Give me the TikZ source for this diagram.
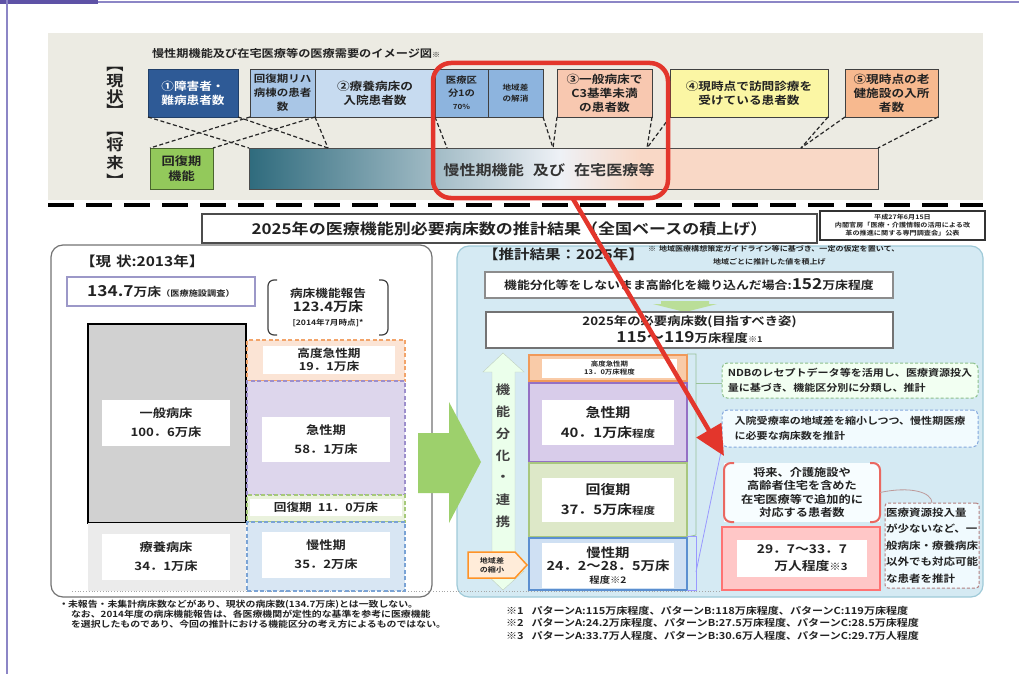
\documentclass[tikz,border=0pt]{standalone}
\usepackage{fontspec}
\setmainfont{Noto Sans CJK JP}[BoldFont={Noto Sans CJK JP Bold},FakeStretch=1.15]
\usetikzlibrary{positioning,arrows.meta,calc}
\newcommand\fz[2]{\fontsize{#1}{#2}\selectfont\bfseries}

\definecolor{inkdark}{HTML}{222222}
\definecolor{bandbg}{HTML}{ECEBE3}
\definecolor{frameline}{HTML}{8C86C6}
\definecolor{frametab}{HTML}{5E52A6}
\definecolor{navy}{HTML}{2E5A96}
\definecolor{rehab}{HTML}{A9C6E6}
\definecolor{ryoyo}{HTML}{C7DBF0}
\definecolor{kubun}{HTML}{8DB4DE}
\definecolor{salmon}{HTML}{F8C8B0}
\definecolor{lemon}{HTML}{FBF6A4}
\definecolor{apricot}{HTML}{F7B98F}
\definecolor{leaf}{HTML}{93C95B}
\definecolor{deepteal}{HTML}{2F6B7D}
\definecolor{mist}{HTML}{EEF1F6}
\definecolor{peach}{HTML}{F9D8C6}
\definecolor{alarm}{HTML}{E3362C}
\definecolor{panelblue}{HTML}{D5EAF3}
\definecolor{paneledge}{HTML}{9FCAD8}
\definecolor{lav}{HTML}{9C98C8}
\definecolor{bigleaf}{HTML}{9DD06C}
% cells of the bars
\definecolor{hkfill}{HTML}{FBE4D5}
\definecolor{hkline}{HTML}{F2A46A}
\definecolor{kyfill}{HTML}{DDD6EC}
\definecolor{kyline}{HTML}{9D8FCC}
\definecolor{kffill}{HTML}{EAF2DD}
\definecolor{kfline}{HTML}{A6C97A}
\definecolor{mnfill}{HTML}{D8E6F3}
\definecolor{mnline}{HTML}{7AA3D5}
\definecolor{rhkfill}{HTML}{F9CBA8}
\definecolor{rhkline}{HTML}{F0995A}
\definecolor{rkyfill}{HTML}{D8CCEA}
\definecolor{rkyline}{HTML}{9470C4}
\definecolor{rkffill}{HTML}{DDE8C8}
\definecolor{rkfline}{HTML}{A8C77E}
\definecolor{rmnfill}{HTML}{CFE0F3}
\definecolor{rmnline}{HTML}{5B8FD0}

\begin{document}
\begin{tikzpicture}[x=1pt,y=-1pt,
  every node/.style={inner sep=0pt, outer sep=0pt, text=inkdark},
  nw/.style={anchor=north west},
  topbox/.style={nw, draw=black!75, line width=0.8pt, align=center, minimum height=48pt, font=\fz{11}{14}},
  dline/.style={black!85, line width=1.2pt, dash pattern=on 4pt off 2.5pt},
  lcell/.style={nw, line width=1.1pt, dash pattern=on 4pt off 2.5pt, minimum width=158pt},
  rcell/.style={nw, minimum width=158pt},
  whitebox/.style={nw, fill=white, align=center},
  memo/.style={nw, rounded corners=5pt, line width=1pt, dash pattern=on 3pt off 2pt, align=left, font=\fz{9.6}{15}},
  redarrow/.style={alarm, line width=4.5pt, -{Triangle[length=30pt,width=28pt]}}
]
\useasboundingbox (0,0) rectangle (1019,674);

% frame of the page
\fill[frametab] (0,0) rectangle (98,4);
\draw[frameline, line width=1.5pt] (98,2) -- (1019,2);
\draw[frameline, line width=1.5pt] (7,0) -- (7,674);

% ---- image of the demand (top band)
\fill[bandbg] (48,33) rectangle (983,200);
\node[anchor=west, font=\fz{10.6}{11}] (bandtitle) at (152,53) {慢性期機能及び在宅医療等の医療需要のイメージ図{\fz{7}{7}※}};

\node[font=\fz{15}{15}] (nowa) at (115,70) {︻};
\node[font=\fz{15}{15}] (nowb) at (115,81) {現};
\node[font=\fz{15}{15}] (nowc) at (115,97) {状};
\node[font=\fz{15}{15}] (nowd) at (115,110) {︼};
\node[font=\fz{15}{15}] (futa) at (115,135) {︻};
\node[font=\fz{15}{15}] (futb) at (115,145) {将};
\node[font=\fz{15}{15}] (futc) at (115,163) {来};
\node[font=\fz{15}{15}] (futd) at (115,180) {︼};

\node[topbox, fill=navy, text=white, minimum width=90pt, draw=navy!70!black] (a1) at (148,69) {①障害者・\\難病患者数};
\node[topbox, fill=rehab, minimum width=65pt, font=\fz{10}{14}] (rh) at (250,69) {回復期リハ\\病棟の患者\\数};
\node[topbox, fill=ryoyo, minimum width=120pt] (ry) at (315,69) {②療養病床の\\入院患者数};
\node[topbox, fill=kubun, minimum width=53pt, font=\fz{9}{13}] (k1) at (435,69) {医療区\\分1の\\{\fz{7}{8}70\%}};
\node[topbox, fill=kubun, minimum width=55pt, font=\fz{7.5}{11}] (k2) at (488,69) {地域差\\の解消};
\node[topbox, fill=salmon, minimum width=95pt] (a3) at (557,69) {③一般病床で\\C3基準未満\\の患者数};
\node[topbox, fill=lemon, minimum width=158pt] (a4) at (670,69) {④現時点で訪問診療を\\受けている患者数};
\node[topbox, fill=apricot, minimum width=93pt] (a5) at (845,69) {⑤現時点の老\\健施設の入所\\者数};

\node[nw, fill=leaf, draw=leaf!50!black, line width=0.8pt, minimum width=63pt, minimum height=41pt, align=center, font=\fz{11.5}{15}] (gr) at (150,148) {回復期\\機能};
\shade[left color=deepteal, right color=mist] (249,148) rectangle (560,189);
\shade[left color=mist, right color=peach] (560,148) rectangle (640,189);
\fill[peach] (640,148) rectangle (878,189);
\node[nw, draw=black!70, line width=0.8pt, minimum width=629pt, minimum height=41pt] (bar) at (249,148) {};
\node[font=\fz{14}{14}, text=black!80] (bartext) at (549,170) {慢性期機能\hspace{9pt}及び\hspace{9pt}在宅医療等};

\coordinate (b1) at (328,148);
\coordinate (b2) at (447,148);
\coordinate (b3) at (553,148);
\coordinate (b4) at (647,148);
\coordinate (b5) at (801,148);

\draw[dline] (a1.south west) -- (bar.north west);
\draw[dline] (a1.south east) -- (b1);
\draw[dline] (rh.south west) -- (gr.north west);
\draw[dline] (rh.south east) -- (gr.north east);
\draw[dline] (ry.south west) -- (b1);
\draw[dline] (k1.south west) -- (b2);
\draw[dline] (k2.south east) -- (b3);
\draw[dline] (a3.south west) -- (b3);
\draw[dline] (a3.south east) -- (b4);
\draw[dline] (a4.south west) -- (b4);
\draw[dline] (a4.south east) -- (b5);
\draw[dline] (a5.south west) -- (b5);
\draw[dline] (a5.south east) -- (bar.north east);

\node[nw, draw=alarm, line width=4.5pt, rounded corners=18pt, minimum width=235pt, minimum height=135pt] (hilite) at (433,63) {};

\draw[black, line width=3.5pt, dash pattern=on 26pt off 12pt] (48,205) -- (983,205);

% ---- headline boxes
\node[nw, fill=white, draw=black!70, line width=1.5pt, minimum width=615pt, minimum height=29pt, font=\fz{14.8}{15}] (result) at (202,214) {2025年の医療機能別必要病床数の推計結果（全国ベースの積上げ）};
\node[nw, fill=white, draw=black!80, line width=1.4pt, minimum width=165pt, minimum height=29pt, align=center, font=\fz{6.2}{8}] (src) at (820,211) {平成27年6月15日\\内閣官房「医療・介護情報の活用による改\\革の推進に関する専門調査会」公表};

% ---- panels
\node[nw, draw=black!55, fill=white, rounded corners=12pt, line width=1.2pt, minimum width=381pt, minimum height=352pt] (nowpanel) at (51,245) {};
\node[nw, draw=paneledge, fill=panelblue, rounded corners=12pt, line width=1.2pt, minimum width=526pt, minimum height=351pt] (futpanel) at (457,246) {};
\draw[black!35, line width=0.8pt, dotted] (72,591) -- (720,591);

% ---- now: 2013
\node[anchor=west, font=\fz{13.5}{14}] (nowhead) at (80,261) {【現\hspace{5pt}状:2013年】};
\node[nw, draw=lav, line width=1.2pt, fill=white, minimum width=188pt, minimum height=29pt] (census) at (67,277) {{\fz{15}{15}134.7}{\fz{12}{12}万床}{\fz{8}{8}（医療施設調査）}};
\node[nw, minimum width=120pt, minimum height=55pt, align=center, font=\fz{11}{14}] (report) at (268,280) {病床機能報告\\{\fz{13}{14}123.4万床}\\{\fz{7.5}{9}[2014年7月時点]*}};
\draw[black!75, line width=1.2pt, rounded corners=6pt] ([xshift=9pt]report.north west) -- (report.north west) -- (report.south west) -- ([xshift=9pt]report.south west);
\draw[black!75, line width=1.2pt, rounded corners=6pt] ([xshift=-9pt]report.north east) -- (report.north east) -- (report.south east) -- ([xshift=-9pt]report.south east);

\node[nw, fill=black!18, draw=black, line width=2pt, minimum width=158pt, minimum height=199pt] (ippan) at (88,324) {};
\node[nw, fill=black!8, minimum width=158pt, minimum height=68pt] (ryo) at (88,523) {};
\node[whitebox, minimum width=128pt, minimum height=46pt, font=\fz{11.5}{19}] (ippanlbl) at (102,400) {一般病床\\100．6万床};
\node[whitebox, minimum width=128pt, minimum height=46pt, font=\fz{11.5}{19}] (ryolbl) at (102,534) {療養病床\\34．1万床};

\node[lcell, fill=hkfill, draw=hkline, minimum height=41pt] (hk) at (247,340) {};
\node[lcell, fill=kyfill, draw=kyline, minimum height=114pt] (ky) at (247,381) {};
\node[lcell, fill=kffill, draw=kfline, minimum height=27pt] (kf) at (247,495) {};
\node[lcell, fill=mnfill, draw=mnline, minimum height=69pt] (mn) at (247,522) {};
\node[whitebox, minimum width=132pt, minimum height=28pt, font=\fz{11}{13}] (hkl) at (263,346) {高度急性期\\19．1万床};
\node[whitebox, minimum width=128pt, minimum height=45pt, font=\fz{11.5}{19}] (kyl) at (262,417) {急性期\\58．1万床};
\node[whitebox, minimum width=152pt, minimum height=17pt, font=\fz{11}{12}] (kfl) at (250,499) {回復期\hspace{6pt}11．0万床};
\node[whitebox, minimum width=128pt, minimum height=46pt, font=\fz{11.5}{19}] (mnl) at (262,532) {慢性期\\35．2万床};

% big arrow between the panels
\fill[bigleaf] (418,433) -- (449,433) -- (449,402) -- (481,462) -- (449,523) -- (449,493) -- (418,493) -- cycle;

% ---- estimate: 2025
\node[anchor=west, font=\fz{13.5}{14}] (futhead) at (483,254) {【推計結果：2025年】};
\node[anchor=west, font=\fz{7}{7}] (futmark) at (648,248.5) {※};
\node[anchor=west, font=\fz{7}{7}] (futnote) at (659,248.5) {地域医療構想策定ガイドライン等に基づき、一定の仮定を置いて、};
\node[anchor=west, font=\fz{7}{7}] (futnoteb) at (713,262) {地域ごとに推計した値を積上げ};

\node[nw, fill=white, draw=black!45, line width=1.4pt, minimum width=408pt, minimum height=26pt, font=\fz{11.2}{12}] (noaction) at (485,272) {機能分化等をしないまま高齢化を織り込んだ場合:{\fz{15}{15}152}万床程度};
\fill[bigleaf!70] (661,301) -- (709,301) -- (709,304) -- (717,304) -- (685,312) -- (653,304) -- (661,304) -- cycle;
\node[nw, fill=white, draw=black!55, line width=2pt, minimum width=407pt, minimum height=36pt, align=center, font=\fz{11.6}{17}] (target) at (486,312) {2025年の必要病床数(目指すべき姿)\\{\fz{15}{17}115～119}万床程度{\fz{8}{8}※1}};

\fill[green!8!white, draw=green!25!black!25] (503,353) -- (524,372) -- (515,372) -- (515,571) -- (524,571) -- (503,590) -- (483,571) -- (492,571) -- (492,372) -- (483,372) -- cycle;
\foreach \ch [count=\i] in {機,能,分,化,・,連,携}
  \node[font=\fz{12.5}{13}, text=black!75] (flow\i) at (503,368+22*\i) {\ch};

\node[rcell, fill=rhkfill, draw=rhkline, line width=1.5pt, minimum height=26pt] (rhk) at (529,355) {};
\node[rcell, fill=rkyfill, draw=rkyline, line width=2.5pt, minimum height=79pt] (rky) at (529,383) {};
\node[rcell, fill=rkffill, draw=rkfline, line width=2pt, minimum height=74pt] (rkf) at (529,463) {};
\node[rcell, fill=rmnfill, draw=rmnline, line width=2.5pt, minimum height=52pt] (rmn) at (529,538) {};
\node[whitebox, minimum width=135pt, minimum height=19pt, font=\fz{6.5}{8}] (rhkl) at (542,359) {高度急性期\\13．0万床程度};
\node[whitebox, minimum width=132pt, minimum height=45pt, font=\fz{13}{20}] (rkyl) at (542,400) {急性期\\40．1万床{\fz{10}{10}程度}};
\node[whitebox, minimum width=132pt, minimum height=44pt, font=\fz{13}{20}] (rkfl) at (542,478) {回復期\\37．5万床{\fz{10}{10}程度}};
\node[whitebox, minimum width=132pt, minimum height=45pt, font=\fz{12.5}{13}] (rmnl) at (542,543) {慢性期\\24．2～28．5万床\\{\fz{9}{11}程度※2}};

\fill[orange!15, draw=orange!85, line width=1.5pt] (468,552) -- (515,552) -- (527,565) -- (515,578) -- (468,578) -- cycle;
\node[align=center, font=\fz{7}{9}] (chiiki) at (492,565) {地域差\\の縮小};

\node[memo, fill=green!5!white, draw=green!45!black!45, minimum width=256pt, minimum height=35pt] (ndb) at (722,363) {NDBのレセプトデータ等を活用し、医療資源投入\\量に基づき、機能区分別に分類し、推計};
\node[memo, fill=cyan!5!white, draw=cyan!50!blue!50, minimum width=256pt, minimum height=37pt] (nyuin) at (722,410) {入院受療率の地域差を縮小しつつ、慢性期医療\\に必要な病床数を推計};

\draw[green!40!black!40, line width=0.8pt] ([yshift=1pt]rhk.north east) -| (696,535) -- (rkf.south east);
\draw[green!40!black!40, line width=0.8pt] (696,383) -- (ndb.west |- 0,383);
\draw[blue!40, line width=0.8pt] ([yshift=2pt]rmn.north east) -| (696,590) -- (rmn.south east);
\draw[blue!40, line width=0.8pt] (696,572) -- (nyuin.south west);

\node[nw, fill=cyan!3!white, minimum width=156pt, minimum height=59pt, align=center, font=\fz{10.6}{13.5}] (grp) at (724,463) {将来、介護施設や\\高齢者住宅を含めた\\在宅医療等で追加的に\\対応する患者数};
\draw[alarm!75, line width=2pt, rounded corners=7pt] ([xshift=10pt]grp.north west) -- (grp.north west) -- (grp.south west) -- ([xshift=10pt]grp.south west);
\draw[alarm!75, line width=2pt, rounded corners=7pt] ([xshift=-10pt]grp.north east) -- (grp.north east) -- (grp.south east) -- ([xshift=-10pt]grp.south east);

\node[nw, fill=red!22, draw=red!55, line width=1.5pt, minimum width=158pt, minimum height=63pt] (pink) at (722,527) {};
\node[whitebox, minimum width=130pt, minimum height=37pt, font=\fz{12}{17}] (pinkl) at (737,540) {29．7～33．7\\\hspace*{18pt}万人程度{\fz{10}{10}※3}};

\node[memo, fill=cyan!6!white, draw=red!40!black!50, rounded corners=3pt, minimum width=94pt, minimum height=85pt, font=\fz{10}{16.5}] (iryo) at (885,503) {医療資源投入量\\が少ないなど、一\\般病床・療養病床\\以外でも対応可能\\な患者を推計};
\draw[red!35!black!40, line width=0.8pt] (grp.east) .. controls (910,486) and (932,492) .. (iryo.north);

% red arrow
\coordinate (arrtip) at (724,456);
\draw[redarrow] ($(hilite.south)+(22,0)$) -- (arrtip);

% ---- notes
\node[anchor=west, font=\fz{8}{8}] (bullet) at (62,605) {•};
\node[nw, align=left, font=\fz{8.6}{10}] (leftnote) at (68,600) {未報告・未集計病床数などがあり、現状の病床数(134.7万床)とは一致しない。\\\hspace*{3pt}なお、2014年度の病床機能報告は、各医療機関が定性的な基準を参考に医療機能\\\hspace*{3pt}を選択したものであり、今回の推計における機能区分の考え方によるものではない。};
\node[nw, align=left, font=\fz{9.6}{12.8}] (rightnote) at (506,606) {※1\hspace{8pt}パターンA:115万床程度、パターンB:118万床程度、パターンC:119万床程度\\※2\hspace{8pt}パターンA:24.2万床程度、パターンB:27.5万床程度、パターンC:28.5万床程度\\※3\hspace{8pt}パターンA:33.7万人程度、パターンB:30.6万人程度、パターンC:29.7万人程度};

\end{tikzpicture}
\end{document}
